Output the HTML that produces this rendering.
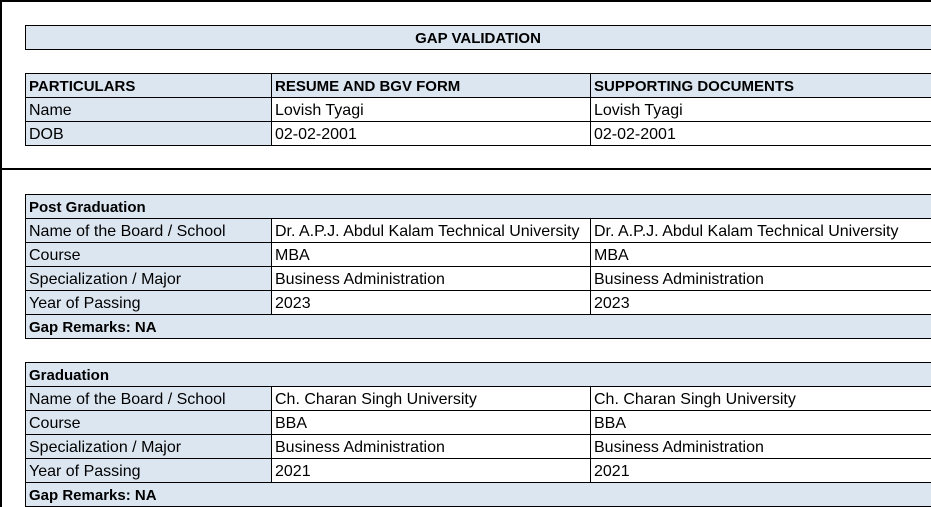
<!DOCTYPE html>
<html><head><style>
body{margin:0;width:931px;height:507px;overflow:hidden;background:#fff;position:relative;font-family:"Liberation Sans",sans-serif;font-size:16px;color:#000}
.c{position:absolute;box-sizing:border-box;height:25px;border:1px solid #000;line-height:26px;padding-left:3px;white-space:nowrap;overflow:hidden}
.b{background:#dce6f1}
.w{background:#fff}
.h{font-weight:bold;font-size:15px}
.l{position:absolute;background:#000}
</style></head><body>
<div class="l" style="left:0;top:0;width:931px;height:2px"></div>
<div class="l" style="left:0;top:0;width:2px;height:507px"></div>
<div class="l" style="left:0;top:168px;width:931px;height:2px"></div>

<div class="c b h" style="left:25px;top:25px;width:920px;text-align:center;padding-left:0;padding-right:14px">GAP VALIDATION</div>

<div class="c b h" style="left:25px;top:73px;width:247px">PARTICULARS</div>
<div class="c b h" style="left:271px;top:73px;width:320px">RESUME AND BGV FORM</div>
<div class="c b h" style="left:590px;top:73px;width:360px">SUPPORTING DOCUMENTS</div>
<div class="c b" style="left:25px;top:97px;width:247px">Name</div>
<div class="c w" style="left:271px;top:97px;width:320px">Lovish Tyagi</div>
<div class="c w" style="left:590px;top:97px;width:360px">Lovish Tyagi</div>
<div class="c b" style="left:25px;top:121px;width:247px">DOB</div>
<div class="c w" style="left:271px;top:121px;width:320px">02-02-2001</div>
<div class="c w" style="left:590px;top:121px;width:360px">02-02-2001</div>

<div class="c b h" style="left:25px;top:194px;width:920px">Post Graduation</div>
<div class="c b" style="left:25px;top:218px;width:247px">Name of the Board / School</div>
<div class="c w" style="left:271px;top:218px;width:320px">Dr. A.P.J. Abdul Kalam Technical University</div>
<div class="c w" style="left:590px;top:218px;width:360px">Dr. A.P.J. Abdul Kalam Technical University</div>
<div class="c b" style="left:25px;top:242px;width:247px">Course</div>
<div class="c w" style="left:271px;top:242px;width:320px">MBA</div>
<div class="c w" style="left:590px;top:242px;width:360px">MBA</div>
<div class="c b" style="left:25px;top:266px;width:247px">Specialization / Major</div>
<div class="c w" style="left:271px;top:266px;width:320px">Business Administration</div>
<div class="c w" style="left:590px;top:266px;width:360px">Business Administration</div>
<div class="c b" style="left:25px;top:290px;width:247px">Year of Passing</div>
<div class="c w" style="left:271px;top:290px;width:320px">2023</div>
<div class="c w" style="left:590px;top:290px;width:360px">2023</div>
<div class="c b h" style="left:25px;top:314px;width:920px">Gap Remarks: NA</div>

<div class="c b h" style="left:25px;top:362px;width:920px">Graduation</div>
<div class="c b" style="left:25px;top:386px;width:247px">Name of the Board / School</div>
<div class="c w" style="left:271px;top:386px;width:320px">Ch. Charan Singh University</div>
<div class="c w" style="left:590px;top:386px;width:360px">Ch. Charan Singh University</div>
<div class="c b" style="left:25px;top:410px;width:247px">Course</div>
<div class="c w" style="left:271px;top:410px;width:320px">BBA</div>
<div class="c w" style="left:590px;top:410px;width:360px">BBA</div>
<div class="c b" style="left:25px;top:434px;width:247px">Specialization / Major</div>
<div class="c w" style="left:271px;top:434px;width:320px">Business Administration</div>
<div class="c w" style="left:590px;top:434px;width:360px">Business Administration</div>
<div class="c b" style="left:25px;top:458px;width:247px">Year of Passing</div>
<div class="c w" style="left:271px;top:458px;width:320px">2021</div>
<div class="c w" style="left:590px;top:458px;width:360px">2021</div>
<div class="c b h" style="left:25px;top:482px;width:920px">Gap Remarks: NA</div>
</body></html>
